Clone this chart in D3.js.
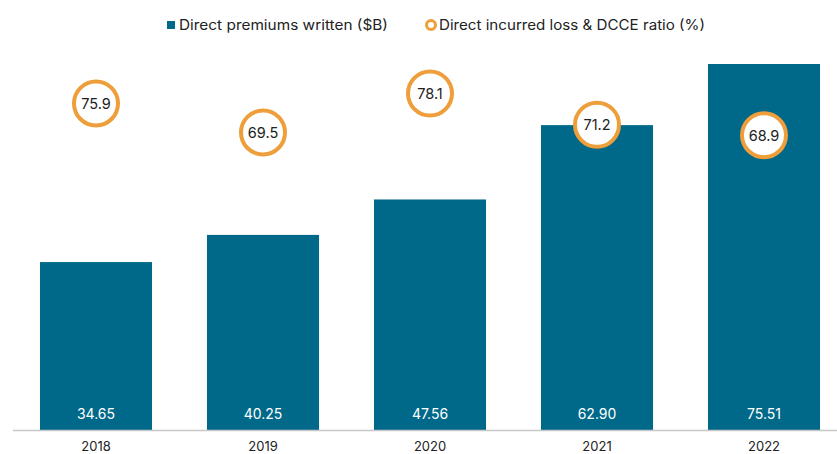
<!DOCTYPE html>
<html><head><meta charset="utf-8">
<script src="https://cdn.jsdelivr.net/npm/d3@7"></script>
<style>body{margin:0;background:#fff;font-family:Inter, Roboto, sans-serif;}</style>
</head><body>
<svg id="c" width="837" height="454"></svg>
<script>
const years = ["2018","2019","2020","2021","2022"];
const premiums = [34.65, 40.25, 47.56, 62.90, 75.51];
const lossRatio = [75.9, 69.5, 78.1, 71.2, 68.9];
const seriesNames = ["Direct premiums written ($B)", "Direct incurred loss & DCCE ratio (%)"];

const W = 837, H = 454, baseY = 430;
const teal = "#00698A", orange = "#EE9E3A", ink = "#222";
const font = "Inter, Roboto, sans-serif";
const svg = d3.select("#c").attr("font-family", font);

const x = d3.scaleBand().domain(years).range([12.5, 847.5]).paddingInner(0.329).paddingOuter(0.1645);
const y = d3.scaleLinear().domain([0, 75.51]).range([baseY, 64]);
const y2 = d3.scaleLinear().domain([60, 80]).range([175.5, 84.9]);

// bars
svg.append("g").selectAll("rect").data(years).join("rect")
  .attr("x", d => x(d)).attr("width", x.bandwidth())
  .attr("y", (d,i) => y(premiums[i])).attr("height", (d,i) => baseY - y(premiums[i]))
  .attr("fill", teal);

// bar value labels
svg.append("g").selectAll("text").data(years).join("text")
  .attr("x", d => x(d) + x.bandwidth()/2).attr("y", 418.5)
  .attr("text-anchor", "middle").attr("fill", "#fff").attr("font-size", 14)
  .text((d,i) => premiums[i].toFixed(2));

// axis
const ax = svg.append("g").attr("transform", `translate(0,${baseY})`)
  .call(d3.axisBottom(x).tickSize(0).tickPadding(0));
ax.select(".domain").attr("stroke", "#c8c8c8").attr("stroke-width", 1.5).attr("d", `M13,0.5H837`);
ax.selectAll("text").attr("font-size", 13).attr("fill", ink).attr("font-family", font)
  .attr("dy", null).attr("y", 20.5);

// ratio circles
const g2 = svg.append("g");
g2.selectAll("circle").data(years).join("circle")
  .attr("cx", d => x(d) + x.bandwidth()/2).attr("cy", (d,i) => y2(lossRatio[i]))
  .attr("r", 22).attr("fill", "#fff").attr("stroke", orange).attr("stroke-width", 4);
g2.selectAll("text").data(years).join("text")
  .attr("x", d => x(d) + x.bandwidth()/2).attr("y", (d,i) => y2(lossRatio[i]) + 5.5)
  .attr("text-anchor", "middle").attr("fill", ink).attr("font-size", 14.5)
  .text((d,i) => lossRatio[i].toFixed(1));

// legend
const lg = svg.append("g");
lg.append("rect").attr("x", 167).attr("y", 21).attr("width", 8).attr("height", 8).attr("fill", teal);
lg.append("text").attr("x", 179).attr("y", 30).attr("font-size", 14).attr("fill", ink)
  .attr("textLength", 209).attr("lengthAdjust", "spacingAndGlyphs").text(seriesNames[0]);
lg.append("circle").attr("cx", 431).attr("cy", 25).attr("r", 4.5).attr("fill", "#fff").attr("stroke", orange).attr("stroke-width", 3);
lg.append("text").attr("x", 439).attr("y", 30).attr("font-size", 14).attr("fill", ink)
  .attr("textLength", 266).attr("lengthAdjust", "spacingAndGlyphs").text(seriesNames[1]);
</script>
</body></html>
